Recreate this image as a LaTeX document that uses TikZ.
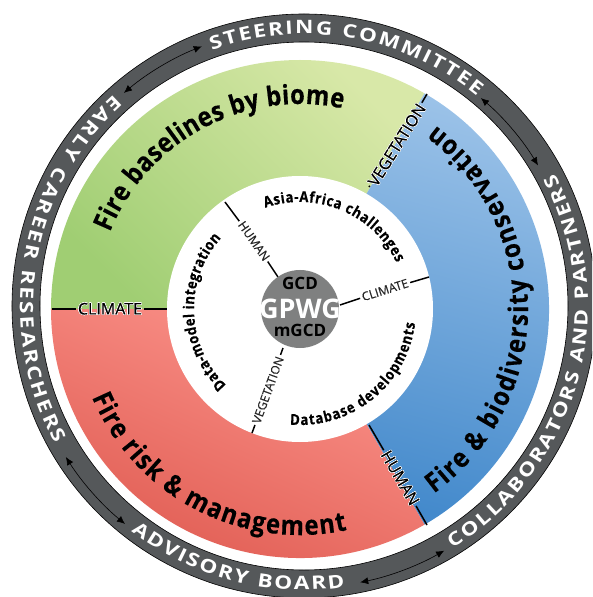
\documentclass[tikz,border=0pt]{standalone}
\usepackage{fontspec}
\usepackage{contour}
\setmainfont{Open Sans}
\newfontfamily\ringfam[FakeStretch=1.22]{Open Sans}
\newfontfamily\lblfam[FakeBold=0.35]{Open Sans}
\newfontfamily\heavyfam[FakeBold=0.4,FakeStretch=0.88]{Open Sans}
\usetikzlibrary{decorations.text,arrows.meta}
\contourlength{0.5pt}
\newcommand\fsz[1]{\fontsize{#1}{#1}\selectfont}
\newcommand\bigfont{\heavyfam\fsz{27}\bfseries}
\newcommand\midfont{\heavyfam\fsz{15}\bfseries}
\newcommand\ringfont{\ringfam\fsz{18.5}\bfseries\color{white}}
\definecolor{ringgray}{HTML}{55585A}
\definecolor{coregray}{HTML}{7F8080}
\definecolor{greenL}{RGB}{216,232,168}
\definecolor{greenD}{RGB}{160,206,115}
\definecolor{blueL}{RGB}{155,194,232}
\definecolor{blueD}{RGB}{68,138,204}
\definecolor{redL}{RGB}{252,148,140}
\definecolor{redD}{RGB}{222,88,78}
\tikzset{
  curvetxt/.style 2 args={decorate,decoration={text along path,text align=fit to path,text={|#1|#2}}},
  divider/.style={black,line width=1.5pt},
  outerlbl/.style={inner sep=2pt,font=\lblfam\fsz{16}},
  innerlbl/.style={inner sep=2pt,font=\lblfam\fsz{12},text=black!85},
  ringarrow/.style={black,line width=0.6pt,{Latex[length=8pt,width=7pt]}-{Latex[length=8pt,width=7pt]}},
}
\begin{document}
\begin{tikzpicture}[x=1pt,y=1pt]
\clip (-300,-288) rectangle (292,309);
\useasboundingbox (-300,-288) rectangle (292,309);
\fill[white] (-300,-288) rectangle (292,309);
% outer ring
\begin{scope}[shift={(4,3)}]
\path[fill=ringgray,draw=black,line width=0.6pt,even odd rule] (0,0) circle[radius=292] (0,0) circle[radius=264];
\draw[ringarrow] (49.6:273) arc[start angle=49.6,end angle=31,radius=273];
\draw[ringarrow] (-60.2:282) arc[start angle=-60.2,end angle=-78.5,radius=282];
\draw[ringarrow] (212.4:282) arc[start angle=212.4,end angle=230.6,radius=282];
\draw[ringarrow] (130.2:279) arc[start angle=130.2,end angle=111.5,radius=279];
\path[curvetxt={\ringfont}{STEERING COMMITTEE}] (109.8:272) arc[start angle=109.8,end angle=50.5,radius=272];
\path[curvetxt={\ringfont}{COLLABORATORS AND PARTNERS}] (-58.5:284) arc[start angle=-58.5,end angle=27.8,radius=284];
\path[curvetxt={\ringfont}{ADVISORY BOARD}] (232.5:284) arc[start angle=232.5,end angle=278.3,radius=284];
\path[curvetxt={\ringfont}{EARLY CAREER RESEARCHERS}] (132:284) arc[start angle=132,end angle=209,radius=284];
\end{scope}
% sectors
\shade[top color=greenL,bottom color=greenD,shading angle=-45]
  (0,0) -- (180:249) arc[start angle=180,end angle=60,radius=249] -- cycle;
\shade[top color=blueL,bottom color=blueD,shading angle=-15]
  (0,0) -- (60:249) arc[start angle=60,end angle=-60,radius=249] -- cycle;
\shade[top color=redL,bottom color=redD,shading angle=-24]
  (0,0) -- (-60:249) arc[start angle=-60,end angle=-180,radius=249] -- cycle;
\fill[white] (0,0) circle[radius=133];
% outer dividers
\coordinate (cliA) at (-248,0); \coordinate (cliB) at (-133,0);
\coordinate (vegA) at (127,215); \coordinate (vegB) at (69,122);
\coordinate (humA) at (127,-216); \coordinate (humB) at (69,-116);
\node[outerlbl] (cliO) at (-190,0) {\contour{white}{CLIMATE}};
\node[outerlbl,rotate=58] (vegO) at (97,164) {\contour{white}{VEGETATION}};
\node[outerlbl,rotate=-60] (humO) at (100,-169) {\contour{white}{HUMAN}};
\draw[divider] (cliA) -- (cliO) -- (cliB);
\draw[divider] (vegA) -- (vegO) -- (vegB);
\draw[divider] (humA) -- (humO) -- (humB);
% inner dividers
\coordinate (ihA) at (-75,107); \coordinate (ihB) at (-22,32);
\coordinate (icA) at (129,32); \coordinate (icB) at (40,4);
\coordinate (ivA) at (-48,-124); \coordinate (ivB) at (-17,-39);
\node[innerlbl,rotate=-55] (ihL) at (-46,68) {HUMAN};
\node[innerlbl,rotate=17.5] (icL) at (85,19) {CLIMATE};
\node[innerlbl,rotate=70] (ivL) at (-32,-81) {VEGETATION};
\draw[divider] (ihA) -- (ihL) -- (ihB);
\draw[divider] (icA) -- (icL) -- (icB);
\draw[divider] (ivA) -- (ivL) -- (ivB);
% core
\node[circle,fill=coregray,minimum size=78pt,inner sep=0pt] (core) at (0,0) {};
\node (gcd) at (0,25.7) {\fsz{17}\bfseries GCD};
\node (gpwg) at (0,-0.3) {\fsz{27}\bfseries\color{white}GPWG};
\node (mgcd) at (0,-21.7) {\fsz{17}\bfseries mGCD};
% curved titles
\path[curvetxt={\bigfont}{Fire baselines by biome}] (158:205) arc[start angle=158,end angle=78,radius=205];
\path[curvetxt={\bigfont}{Fire {\&} biodiversity conservation}] (-54:228) arc[start angle=-54,end angle=53.5,radius=228];
\path[curvetxt={\bigfont}{Fire risk {\&} management}] (203:226) arc[start angle=203,end angle=282,radius=226];
\path[curvetxt={\midfont}{Asia-Africa challenges}] (109:107) arc[start angle=109,end angle=25.6,radius=107];
\path[curvetxt={\midfont}{Data-model integration}] (226:106) arc[start angle=226,end angle=138,radius=106];
\path[curvetxt={\midfont}{Database developments}] (265:116) arc[start angle=265,end angle=353,radius=116];
\end{tikzpicture}
\end{document}
